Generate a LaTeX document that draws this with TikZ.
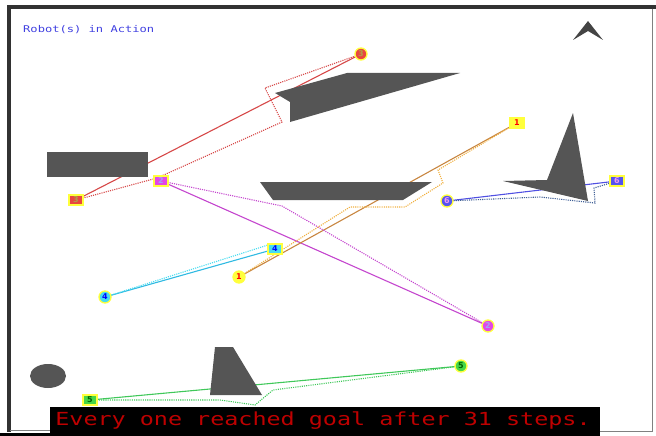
\documentclass[tikz,border=0pt]{standalone}
\usepackage{fontspec}
\setmainfont{DejaVu Sans}
\newfontfamily\vecfont[FakeStretch=1.3]{DejaVu Sans Mono}
\usetikzlibrary{backgrounds}
\definecolor{cobst}{RGB}{85, 85, 85}
\definecolor{cframe}{RGB}{50, 50, 50}
\definecolor{cred}{RGB}{232, 70, 64}
\definecolor{credl}{RGB}{214, 72, 72}
\definecolor{cmag}{RGB}{226, 70, 230}
\definecolor{cmagl}{RGB}{196, 70, 206}
\definecolor{cyel}{RGB}{255, 255, 60}
\definecolor{corange}{RGB}{200, 134, 64}
\definecolor{corangel}{RGB}{240, 176, 64}
\definecolor{ccyan}{RGB}{70, 220, 240}
\definecolor{ccyanl}{RGB}{48, 186, 226}
\definecolor{cgreen}{RGB}{70, 214, 70}
\definecolor{cgreenl}{RGB}{64, 200, 90}
\definecolor{cblue}{RGB}{84, 84, 240}
\definecolor{cbluel}{RGB}{80, 80, 226}
\definecolor{cslate}{RGB}{64, 96, 150}
\definecolor{ctitle}{RGB}{64, 64, 224}
\definecolor{cmsg}{RGB}{190, 0, 0}
\definecolor{colive}{RGB}{176, 160, 70}
\tikzset{
  obst/.style={fill=cobst, draw=none},
  sqmark/.style={rectangle, draw=cyel, line width=1.3pt, minimum width=14pt,
                 minimum height=10pt, inner sep=0pt, font=\bfseries\fontsize{8}{8}\selectfont},
  ringmark/.style={circle, draw=cyel, line width=1.3pt, minimum size=12pt,
                   inner sep=0pt, font=\bfseries\fontsize{8}{8}\selectfont},
  direct/.style={line width=1.1pt},
  trail/.style={line width=1.1pt, dash pattern=on 1.1pt off 1.1pt},
}

\begin{document}
\begin{tikzpicture}[x=1pt, y=-1pt]
\useasboundingbox (0,0) rectangle (656,436);

% ---------- frame and caption ----------
\fill[cframe] (7,5) rectangle (656,9.5);
\fill[cframe] (7,5) rectangle (10.5,432);
\draw[gray, line width=1.2pt] (652.5,9) -- (652.5,431.5) -- (600,431.5);
\draw[gray, line width=1.2pt] (10,430.5) -- (50,430.5);
\fill[black] (50,407) rectangle (600,436);
\fill[black] (0,432.5) rectangle (50,436);

\node[font=\vecfont\fontsize{9.3}{10}\selectfont, text=ctitle, anchor=west, inner sep=0pt]
  (title) at (23,30) {Robot(s) in Action};
\node[font=\vecfont\fontsize{18}{20}\selectfont, text=cmsg, inner sep=0pt]
  (msg) at (323,421) {Every one reached goal after 31 steps.};

% ---------- robots: squares and circles ----------
\node[sqmark, fill=cyel, text=red] (s1) at (517,123) {1};
\node[sqmark, fill=cmag, text=cblue!55] (s2) at (161,181) {2};
\node[sqmark, fill=cred, text=colive] (s3) at (76,200) {3};
\node[sqmark, fill=ccyan, text=blue] (s4) at (275,249) {4};
\node[sqmark, fill=cgreen, text=green!40!black] (s5) at (90,400) {5};
\node[sqmark, fill=cblue, text=cmag!55] (s6) at (617,181) {6};

\node[ringmark, fill=cyel, text=red] (g1) at (239,277) {1};
\node[ringmark, fill=cmag, text=cblue!55] (g2) at (488,326) {2};
\node[ringmark, fill=cred, text=colive] (g3) at (361,54) {3};
\node[ringmark, fill=ccyan, text=blue] (g4) at (105,297) {4};
\node[ringmark, fill=cgreen, text=green!40!black] (g5) at (461,366) {5};
\node[ringmark, fill=cblue, text=cmag!55] (g6) at (447,201) {6};

% ---------- way points of the travelled paths ----------
\coordinate (r3a) at (157,178);
\coordinate (r3b) at (282,122);
\coordinate (r3c) at (265,88);
\coordinate (r2a) at (282,206);
\coordinate (r1a) at (350,207);
\coordinate (r1b) at (405,207);
\coordinate (r1c) at (443,183);
\coordinate (r1d) at (438,170);
\coordinate (r6a) at (540,197);
\coordinate (r6b) at (595,203);
\coordinate (r6c) at (594,188);
\coordinate (r4a) at (268,245);
\coordinate (r5a) at (220,400);
\coordinate (r5b) at (255,405);
\coordinate (r5c) at (273,390);

\begin{scope}[on background layer]
  % straight lines
  \draw[direct, credl] (s3.center) -- (g3.center);
  \draw[direct, cmagl] (s2.center) -- (g2.center);
  \draw[direct, corange] (s1.center) -- (g1.center);
  \draw[direct, ccyanl] (s4.center) -- (g4.center);
  \draw[direct, cgreenl] (s5.center) -- (g5.center);
  \draw[direct, cbluel] (g6.center) -- (s6.center);
  % travelled paths
  \draw[trail, credl] (s3.center) -- (r3a) -- (r3b) -- (r3c) -- (g3.center);
  \draw[trail, cmagl] (s2.center) -- (r2a) -- (g2.center);
  \draw[trail, corangel] (g1.center) -- (r1a) -- (r1b) -- (r1c) -- (r1d) -- (s1.center);
  \draw[trail, ccyan] (g4.center) -- (r4a) -- (s4.center);
  \draw[trail, cgreenl] (s5.center) -- (r5a) -- (r5b) -- (r5c) -- (g5.center);
  \draw[trail, cslate] (g6.center) -- (r6a) -- (r6b) -- (r6c) -- (s6.center);
  % obstacles
  \fill[obst] (47,152) rectangle (148,177);
  \fill[obst] (275,93) -- (347,73) -- (460,73) -- (290,122) -- (290,102) -- cycle;
  \fill[obst] (260,182) -- (432,182) -- (403,200) -- (273,200) -- cycle;
  \fill[obst] (503,181) -- (547,180) -- (573,113) -- (588,201) -- cycle;
  \fill[obst] (215,347) -- (233,347) -- (262,395) -- (210,395) -- cycle;
  \fill[obst] (48,376) ellipse [x radius=18, y radius=12];
  \fill[cobst!80!black] (573,40) -- (588,21) -- (603,40) -- (588,31) -- cycle;
\end{scope}

\end{tikzpicture}
\end{document}
